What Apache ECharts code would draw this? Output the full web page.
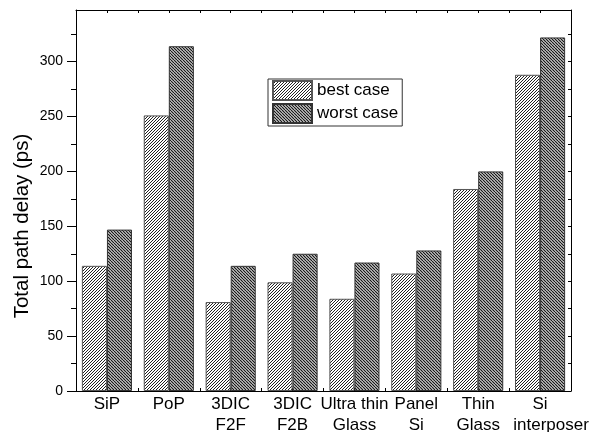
<!DOCTYPE html>
<html>
<head>
<meta charset="utf-8">
<script src="https://cdn.jsdelivr.net/npm/echarts@6/dist/echarts.min.js"></script>
<style>
  html, body { margin: 0; padding: 0; background: #fff; }
  #chart { width: 592px; height: 432px; }
</style>
</head>
<body>
<div id="chart"></div>
<script>
var categories = ['SiP', 'PoP', '3DIC\nF2F', '3DIC\nF2B', 'Ultra thin\nGlass', 'Panel\nSi', 'Thin\nGlass', 'Si\ninterposer'];
var bestCase = [114, 251, 81, 99, 84, 107, 184, 288];
var worstCase = [147, 314, 114, 125, 117, 128, 200, 322];
var majorTicks = [0, 50, 100, 150, 200, 250, 300];
var minorTicks = [25, 75, 125, 175, 225, 275, 325];

var font = 'Liberation Sans, Arial, sans-serif';

// diagonal hatch tile, dir > 0 draws '/', otherwise '\'
function hatch (size, dir, bg, fg, lw) {
  var c = document.createElement('canvas');
  c.width = c.height = size;
  var g = c.getContext('2d');
  g.fillStyle = bg;
  g.fillRect(0, 0, size, size);
  g.strokeStyle = fg;
  g.lineWidth = lw;
  g.beginPath();
  for (var k = -1; k <= 1; k++) {
    if (dir > 0) {
      g.moveTo(k * size, size);
      g.lineTo(k * size + size, 0);
    } else {
      g.moveTo(k * size, 0);
      g.lineTo(k * size + size, size);
    }
  }
  g.stroke();
  return c;
}

var bestFill = { image: hatch(3, 1, '#ffffff', '#222222', 1.0), repeat: 'repeat' };
var worstFill = { image: hatch(3, -1, '#d2d2d2', '#111111', 1.1), repeat: 'repeat' };

// frame axes: only ticks and lines, no labels
function frameX (pos, showLine) {
  return {
    type: 'value',
    position: pos,
    min: 0,
    max: 16,
    interval: 1,
    axisLine: { show: showLine, onZero: false, lineStyle: { color: '#000', width: 1 } },
    axisTick: { inside: true, length: 3, lineStyle: { color: '#000' } },
    axisLabel: { show: false },
    splitLine: { show: false }
  };
}

var labelFont = { fontFamily: font, fontSize: 17, lineHeight: 21, color: '#000' };

var myChart = echarts.init(document.getElementById('chart'));
var option = {
  animation: false,
  grid: { left: 76, right: 21, top: 10, bottom: 41, outerBoundsMode: 'none', containLabel: false },
  legend: {
    orient: 'vertical',
    left: 268,
    top: 79,
    padding: [1, 4, 2, 4],
    itemGap: 2,
    itemWidth: 39,
    itemHeight: 19,
    icon: 'rect',
    borderColor: '#333',
    borderWidth: 1,
    textStyle: { fontFamily: font, fontSize: 17, color: '#000' },
    data: ['best case', 'worst case']
  },
  xAxis: [
    {
      type: 'category',
      position: 'bottom',
      data: categories,
      axisLine: { onZero: false, lineStyle: { color: '#000', width: 1 } },
      axisTick: { inside: true, length: 3, lineStyle: { color: '#000' } },
      axisLabel: {
        fontFamily: font, fontSize: 17, lineHeight: 21, color: '#000', margin: 3, interval: 0,
        // the last label's second line sits a bit to the right in the original
        formatter: function (value, index) {
          if (index === categories.length - 1) {
            var parts = value.split('\n');
            return '{a|' + parts[0] + '}\n{b|' + parts[1] + '}';
          }
          return value;
        },
        rich: {
          a: labelFont,
          b: Object.assign({ padding: [0, 0, 0, 22] }, labelFont)
        }
      }
    },
    frameX('top', true),
    frameX('bottom', false)
  ],
  yAxis: [
    {
      type: 'value',
      position: 'left',
      min: 0,
      max: 347,
      axisLine: { show: true, onZero: false, lineStyle: { color: '#000', width: 1 } },
      axisTick: { show: true, length: 9, customValues: majorTicks, lineStyle: { color: '#000' } },
      axisLabel: { customValues: majorTicks, fontFamily: font, fontSize: 14, color: '#000', margin: 13 },
      splitLine: { show: false }
    },
    {
      type: 'value',
      position: 'left',
      min: 0,
      max: 347,
      axisLine: { show: false, onZero: false },
      axisTick: { show: true, length: 5, customValues: minorTicks, lineStyle: { color: '#000' } },
      axisLabel: { show: false },
      splitLine: { show: false }
    },
    {
      type: 'value',
      position: 'right',
      min: 0,
      max: 347,
      axisLine: { show: true, onZero: false, lineStyle: { color: '#000', width: 1 } },
      axisTick: { show: true, inside: true, length: 3, customValues: majorTicks.concat(minorTicks), lineStyle: { color: '#000' } },
      axisLabel: { show: false },
      splitLine: { show: false }
    }
  ],
  graphic: [
    {
      type: 'text',
      x: 22,
      y: 226,
      rotation: Math.PI / 2,
      style: {
        text: 'Total path delay (ps)',
        fontFamily: font,
        fontSize: 20.5,
        fill: '#000',
        align: 'center',
        verticalAlign: 'middle'
      }
    }
  ],
  series: [
    {
      name: 'best case',
      type: 'bar',
      xAxisIndex: 0,
      yAxisIndex: 0,
      barGap: '0%',
      barCategoryGap: '19%',
      itemStyle: { color: bestFill, borderColor: '#555', borderWidth: 1 },
      data: bestCase
    },
    {
      name: 'worst case',
      type: 'bar',
      xAxisIndex: 0,
      yAxisIndex: 0,
      barGap: '0%',
      barCategoryGap: '19%',
      itemStyle: { color: worstFill, borderColor: '#333', borderWidth: 1 },
      data: worstCase
    }
  ]
};
myChart.setOption(option, true);
</script>
</body>
</html>
